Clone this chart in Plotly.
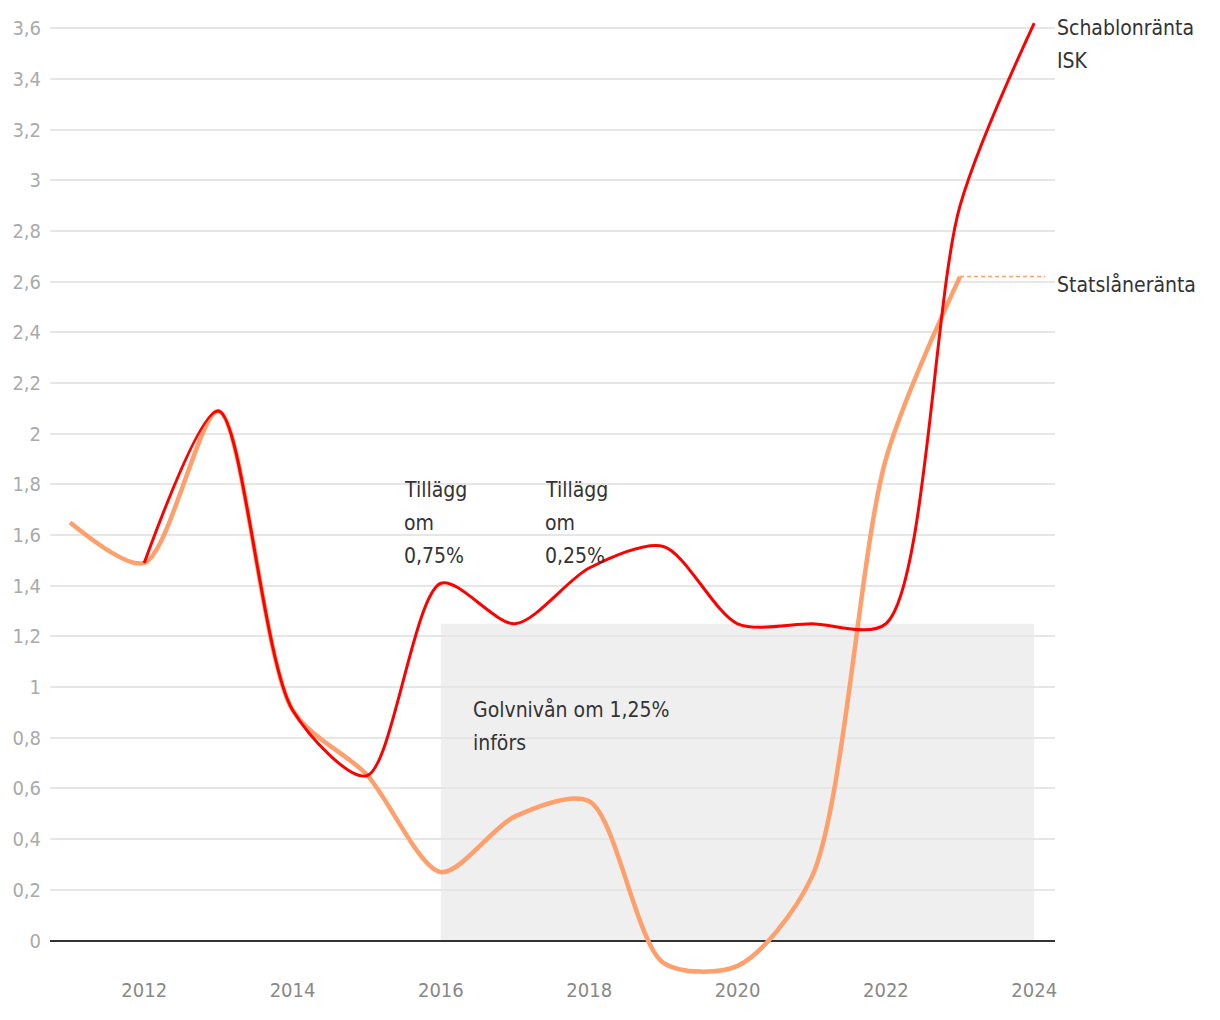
import plotly.graph_objects as go

# Data
years_stat = [2011, 2012, 2013, 2014, 2015, 2016, 2017, 2018, 2019, 2020, 2021, 2022, 2023]
statslaneranta = [1.65, 1.49, 2.09, 0.91, 0.655, 0.27, 0.49, 0.55, -0.088, -0.10, 0.25, 1.90, 2.62]

years_isk = [2012, 2013, 2014, 2015, 2016, 2017, 2018, 2019, 2020, 2021, 2022, 2023, 2024]
schablonranta = [1.49, 2.09, 0.91, 0.65, 1.41, 1.25, 1.47, 1.555, 1.25, 1.25, 1.25, 2.90, 3.62]

floor_level = 1.25
floor_start, floor_end = 2016, 2024

y_ticks = [0, 0.2, 0.4, 0.6, 0.8, 1, 1.2, 1.4, 1.6, 1.8, 2, 2.2, 2.4, 2.6, 2.8, 3, 3.2, 3.4, 3.6]
y_ticktext = ["0", "0,2", "0,4", "0,6", "0,8", "1", "1,2", "1,4", "1,6", "1,8", "2", "2,2", "2,4",
              "2,6", "2,8", "3", "3,2", "3,4", "3,6"]
x_ticks = [2012, 2014, 2016, 2018, 2020, 2022, 2024]
x_ticktext = [str(v) for v in x_ticks]

FONT = "Liberation Sans Narrow, DejaVu Sans Condensed, Roboto, sans-serif"
ORANGE = "#ff9f6b"
RED = "#ff0000"

fig = go.Figure()

fig.add_trace(go.Scatter(
    x=years_stat, y=statslaneranta, mode="lines",
    line=dict(color=ORANGE, width=4.5, shape="spline", smoothing=0.8),
    hoverinfo="skip", showlegend=False))

# dotted continuation of last value
fig.add_trace(go.Scatter(
    x=[years_stat[-1], 2024.15], y=[statslaneranta[-1], statslaneranta[-1]], mode="lines",
    line=dict(color=ORANGE, width=1.5, dash="4px,3px"),
    hoverinfo="skip", showlegend=False))

fig.add_trace(go.Scatter(
    x=years_isk, y=schablonranta, mode="lines",
    line=dict(color=RED, width=3, shape="spline", smoothing=0.8),
    hoverinfo="skip", showlegend=False))

fig.add_shape(type="rect", xref="x", yref="y", x0=floor_start, x1=floor_end, y0=0, y1=floor_level,
              fillcolor="#efefef", line=dict(width=0), layer="below")

ann_font = dict(family=FONT, size=21, color="#333333")
LINE_PX = 33


def add_text_block(lines, x, y, xref="x"):
    for i, line in enumerate(lines):
        fig.add_annotation(x=x, xref=xref, y=y, yref="y", text=line, xanchor="left",
                           yanchor="middle", yshift=-LINE_PX * i, showarrow=False,
                           align="left", font=ann_font)


add_text_block(["Schablonränta", "ISK"], 1, 3.60, xref="paper")
add_text_block(["Statslåneränta"], 1, 2.59, xref="paper")
add_text_block(["Tillägg", "om", "0,75%"], 2015.47, 1.778)
add_text_block(["Tillägg", "om", "0,25%"], 2017.38, 1.778)
add_text_block(["Golvnivån om 1,25%", "införs"], 2016.41, 0.91)

fig.update_layout(
    width=1220, height=1020,
    margin=dict(l=50, r=165, t=8, b=44),
    paper_bgcolor="white", plot_bgcolor="white",
    font=dict(family=FONT),
    showlegend=False,
    xaxis=dict(range=[2010.73, 2024.28], tickvals=x_ticks, ticktext=x_ticktext,
               showgrid=False, zeroline=False, showline=False, ticks="",
               tickfont=dict(family=FONT, size=20, color="#888888")),
    yaxis=dict(range=[-0.14, 3.68], tickvals=y_ticks, ticktext=y_ticktext,
               showgrid=True, gridcolor="#e6e6e6", gridwidth=2,
               zeroline=True, zerolinecolor="#333333", zerolinewidth=2,
               showline=False, ticks="", ticklabelstandoff=8,
               tickfont=dict(family=FONT, size=20, color="#aaaaaa")),
)

fig.write_html("out.html")
